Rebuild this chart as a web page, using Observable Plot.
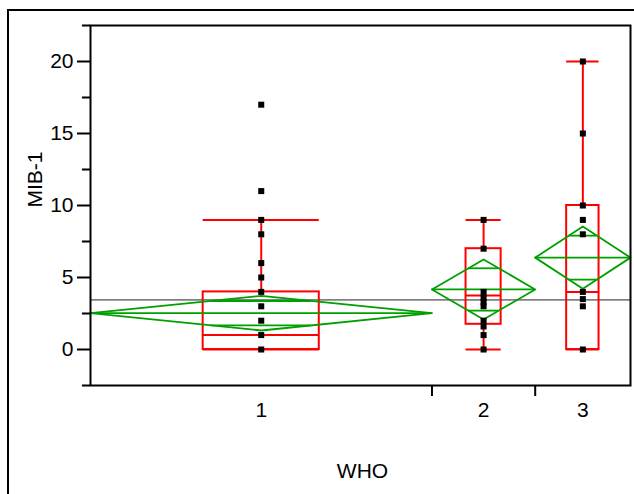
<!DOCTYPE html>
<html>
<head>
<meta charset="utf-8">
<script src="https://cdn.jsdelivr.net/npm/d3@7"></script>
<script src="https://cdn.jsdelivr.net/npm/@observablehq/plot@0.6"></script>
<style>
  html, body { margin: 0; padding: 0; background: #fff; }
  #wrap { position: relative; width: 634px; height: 494px; overflow: hidden; }
  #outer { position: absolute; left: 7px; top: 9px; right: -10px; bottom: -10px;
           border-top: 2px solid #000; border-left: 2px solid #000; pointer-events: none; }
  #chart { position: absolute; left: 0; top: 0; }
</style>
</head>
<body>
<div id="wrap"><div id="chart"></div><div id="outer"></div></div>
<script>
// ---- data ----
const groups = ["1", "2", "3"];
const counts = [43, 13, 12];                 // relative group sizes (x widths)
const values1 = [17, 11, 9, 8, 6, 5, 4, 3, 2, 1, 0];
const values2 = [9, 7, 4, 3.6, 3.3, 3, 2, 1.6, 1, 0];
const values3 = [20, 15, 10, 9, 8, 4, 3.5, 3, 0];
const q1 = [0, 1.75, 0];
const medians = [1, 3.75, 4];
const q3 = [4, 7, 10];
const whiskerLo = [0, 0, 0];
const whiskerHi = [9, 9, 20];
const means = [2.52, 4.17, 6.38];
const ciHalf = [1.2, 2.08, 2.16];
const grandMean = 3.44;
const yMajor = [0, 5, 10, 15, 20];
const yMinor = [-2.5, 2.5, 7.5, 12.5, 17.5, 22.5];
const xLabel = "WHO";
const yLabel = "MIB-1";

// ---- derived tables ----
const total = d3.sum(counts);
const starts = counts.map((c, i) => d3.sum(counts.slice(0, i)));
const ends = counts.map((c, i) => starts[i] + c);
const centers = counts.map((c, i) => starts[i] + c / 2);
const boxFrac = 0.34;
const G = groups.map((g, i) => {
  const bw = counts[i] * boxFrac;
  const ov = (counts[i] / 2) * (1 - Math.SQRT1_2);
  return {
    g, start: starts[i], end: ends[i], c: centers[i],
    bx1: centers[i] - bw / 2, bx2: centers[i] + bw / 2,
    q1: q1[i], med: medians[i], q3: q3[i], lo: whiskerLo[i], hi: whiskerHi[i],
    mean: means[i], h: ciHalf[i],
    ox1: centers[i] - ov, ox2: centers[i] + ov,
    oHi: means[i] + ciHalf[i] * Math.SQRT1_2, oLo: means[i] - ciHalf[i] * Math.SQRT1_2
  };
});
const diamonds = G.flatMap(d => [
  {g: d.g, x: d.start, y: d.mean},
  {g: d.g, x: d.c, y: d.mean + d.h},
  {g: d.g, x: d.end, y: d.mean},
  {g: d.g, x: d.c, y: d.mean - d.h},
  {g: d.g, x: d.start, y: d.mean}
]);
const points = [values1, values2, values3].flatMap((vals, i) =>
  vals.map(v => ({x: centers[i], y: v})));

const RED = "#ff0000", GREEN = "#00a000", GRAY = "#808080";
const FS = 21;

const chart = Plot.plot({
  width: 634, height: 494,
  marginLeft: 90, marginRight: 4, marginTop: 25, marginBottom: 109,
  style: {fontFamily: "'Liberation Sans', Arial, sans-serif", fontSize: FS + "px", background: "#fff", color: "#000"},
  x: {type: "linear", domain: [0, total]},
  y: {domain: [-2.5, 22.5]},
  marks: [
    // grand mean
    Plot.ruleY([grandMean], {x1: 0, x2: total, stroke: GRAY, strokeWidth: 1.8}),
    // box plots
    Plot.rect(G, {x1: "bx1", x2: "bx2", y1: "q1", y2: "q3", fill: "none", stroke: RED, strokeWidth: 2}),
    Plot.ruleY(G, {y: "med", x1: "bx1", x2: "bx2", stroke: RED, strokeWidth: 2}),
    Plot.ruleX(G, {x: "c", y1: "q3", y2: "hi", stroke: RED, strokeWidth: 2}),
    Plot.ruleX(G, {x: "c", y1: "lo", y2: "q1", stroke: RED, strokeWidth: 2}),
    Plot.ruleY(G, {y: "hi", x1: "bx1", x2: "bx2", stroke: RED, strokeWidth: 2}),
    Plot.ruleY(G, {y: "lo", x1: "bx1", x2: "bx2", stroke: RED, strokeWidth: 2}),
    // means diamonds
    Plot.line(diamonds, {x: "x", y: "y", z: "g", stroke: GREEN, strokeWidth: 1.8, curve: "linear"}),
    Plot.ruleY(G, {y: "mean", x1: "start", x2: "end", stroke: GREEN, strokeWidth: 1.8}),
    Plot.ruleY(G, {y: "oHi", x1: "ox1", x2: "ox2", stroke: GREEN, strokeWidth: 1.8}),
    Plot.ruleY(G, {y: "oLo", x1: "ox1", x2: "ox2", stroke: GREEN, strokeWidth: 1.8}),
    // points
    Plot.dot(points, {x: "x", y: "y", symbol: "square", r: 3.4, fill: "#000", stroke: "none"}),
    // axes
    Plot.axisY({ticks: yMinor, tickSize: 8, tickFormat: () => "", strokeWidth: 2, label: null}),
    Plot.axisY({ticks: yMajor, tickSize: 13, tickPadding: 4, fontSize: FS, strokeWidth: 2, label: null}),
    Plot.axisX({ticks: ends.slice(0, -1), tickSize: 11, tickFormat: () => "", strokeWidth: 2, label: null}),
    Plot.text(groups, {x: (d, i) => centers[i], frameAnchor: "bottom", dy: 31, text: d => d, fontSize: FS}),
    Plot.text([xLabel], {frameAnchor: "bottom", dy: 92, dx: 2, text: d => d, fontSize: FS}),
    Plot.text([yLabel], {frameAnchor: "left", dx: -55, dy: 2, rotate: -90, text: d => d, fontSize: FS}),
    Plot.frame({stroke: "#000", strokeWidth: 2})
  ]
});
document.getElementById("chart").appendChild(chart);
</script>
</body>
</html>
